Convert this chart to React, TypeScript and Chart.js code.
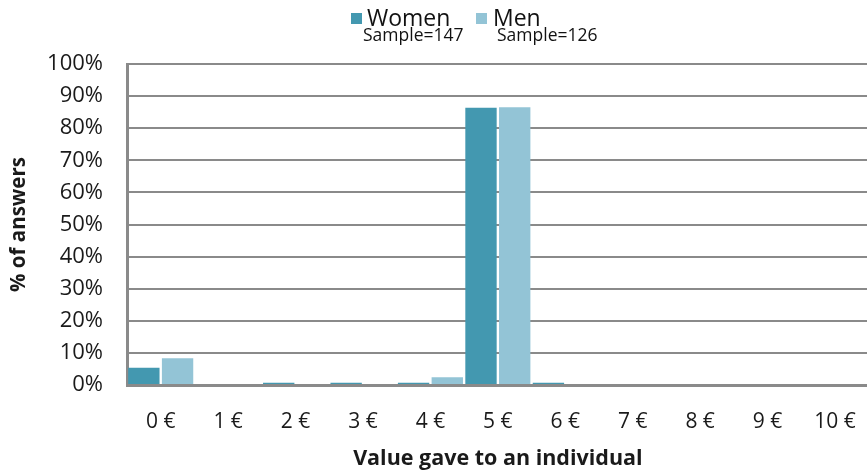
import { useEffect, useRef } from "react";
import { Chart, registerables } from "chart.js";

Chart.register(...registerables);

// Amount given, in euros
const categories = ["0 €", "1 €", "2 €", "3 €", "4 €", "5 €", "6 €", "7 €", "8 €", "9 €", "10 €"];
// Share of answers (%) per group
const womenValues = [5.4, 0, 0.7, 0.7, 0.7, 86.4, 0.7, 0, 0, 0, 0];
const menValues = [8.3, 0, 0, 0, 2.4, 86.5, 0, 0, 0, 0, 0];
const seriesNames = ["Women", "Men"];
const sampleSizes = [147, 126];
const yTickValues = [0, 10, 20, 30, 40, 50, 60, 70, 80, 90, 100];

const WOMEN_COLOR = "#4398b0";
const MEN_COLOR = "#93c4d6";
const FONT = "'Open Sans', sans-serif";
const TEXT = "#1a1a1a";
const GRID = "#8a8a8a";

// Two-line legend: coloured square + series name, sample size underneath
const legendPlugin = {
  id: "sampleLegend",
  afterDraw(chart: Chart) {
    const ctx = chart.ctx;
    const items = [
      { x: 351, tx: 367, color: WOMEN_COLOR, name: seriesNames[0], sample: sampleSizes[0], sx: 363 },
      { x: 476, tx: 493, color: MEN_COLOR, name: seriesNames[1], sample: sampleSizes[1], sx: 497 },
    ];
    ctx.save();
    items.forEach((it) => {
      ctx.fillStyle = it.color;
      ctx.fillRect(it.x, 13, 11, 11);
      ctx.fillStyle = "#111";
      ctx.textBaseline = "alphabetic";
      ctx.textAlign = "left";
      ctx.font = `23px ${FONT}`;
      ctx.fillText(it.name, it.tx, 26);
      ctx.font = `17.5px ${FONT}`;
      ctx.fillText(`Sample=${it.sample}`, it.sx, 41);
    });
    ctx.restore();
  },
};

export default function App() {
  const canvasRef = useRef<HTMLCanvasElement | null>(null);

  useEffect(() => {
    const canvas = canvasRef.current;
    if (!canvas) return;
    const chart = new Chart(canvas, {
      type: "bar",
      data: {
        labels: categories,
        datasets: [
          {
            label: seriesNames[0],
            data: womenValues,
            backgroundColor: WOMEN_COLOR,
            barPercentage: 0.93,
            categoryPercentage: 1,
          },
          {
            label: seriesNames[1],
            data: menValues,
            backgroundColor: MEN_COLOR,
            barPercentage: 0.93,
            categoryPercentage: 1,
          },
        ],
      },
      options: {
        responsive: false,
        animation: false,
        layout: { padding: { top: 64, right: 6, left: 0, bottom: 0 } },
        plugins: {
          legend: { display: false },
          tooltip: { enabled: false },
        },
        scales: {
          x: {
            grid: { display: false, drawTicks: false },
            border: { color: GRID, width: 3 },
            ticks: {
              color: TEXT,
              font: { family: FONT, size: 21 },
              padding: 24,
              maxRotation: 0,
              autoSkip: false,
            },
            title: {
              display: true,
              text: "Value gave to an individual",
              color: TEXT,
              font: { family: FONT, size: 21.5, weight: "bold" },
              padding: { top: 1, bottom: 2 },
            },
            afterFit(scale: any) {
              scale.height = 89;
            },
          },
          y: {
            min: 0,
            max: 100,
            afterBuildTicks(scale: any) {
              scale.ticks = yTickValues.map((v) => ({ value: v }));
            },
            grid: { color: GRID, lineWidth: 2, drawTicks: false },
            border: { color: GRID, width: 3 },
            ticks: {
              color: TEXT,
              font: { family: FONT, size: 22 },
              padding: 24,
              callback: (v: any) => `${v}%`,
            },
            title: {
              display: true,
              text: "% of answers",
              color: TEXT,
              font: { family: FONT, size: 20.5, weight: "bold" },
              padding: { top: 7, bottom: 0 },
            },
            afterFit(scale: any) {
              scale.width = 127;
            },
          },
        },
      },
      plugins: [legendPlugin],
    });
    return () => chart.destroy();
  }, []);

  return (
    <div
      style={{
        position: "fixed",
        left: 0,
        top: 0,
        width: 867,
        height: 474,
        overflow: "hidden",
        background: "#fff",
      }}
    >
      <canvas ref={canvasRef} width={880} height={474} style={{ display: "block" }} />
    </div>
  );
}
